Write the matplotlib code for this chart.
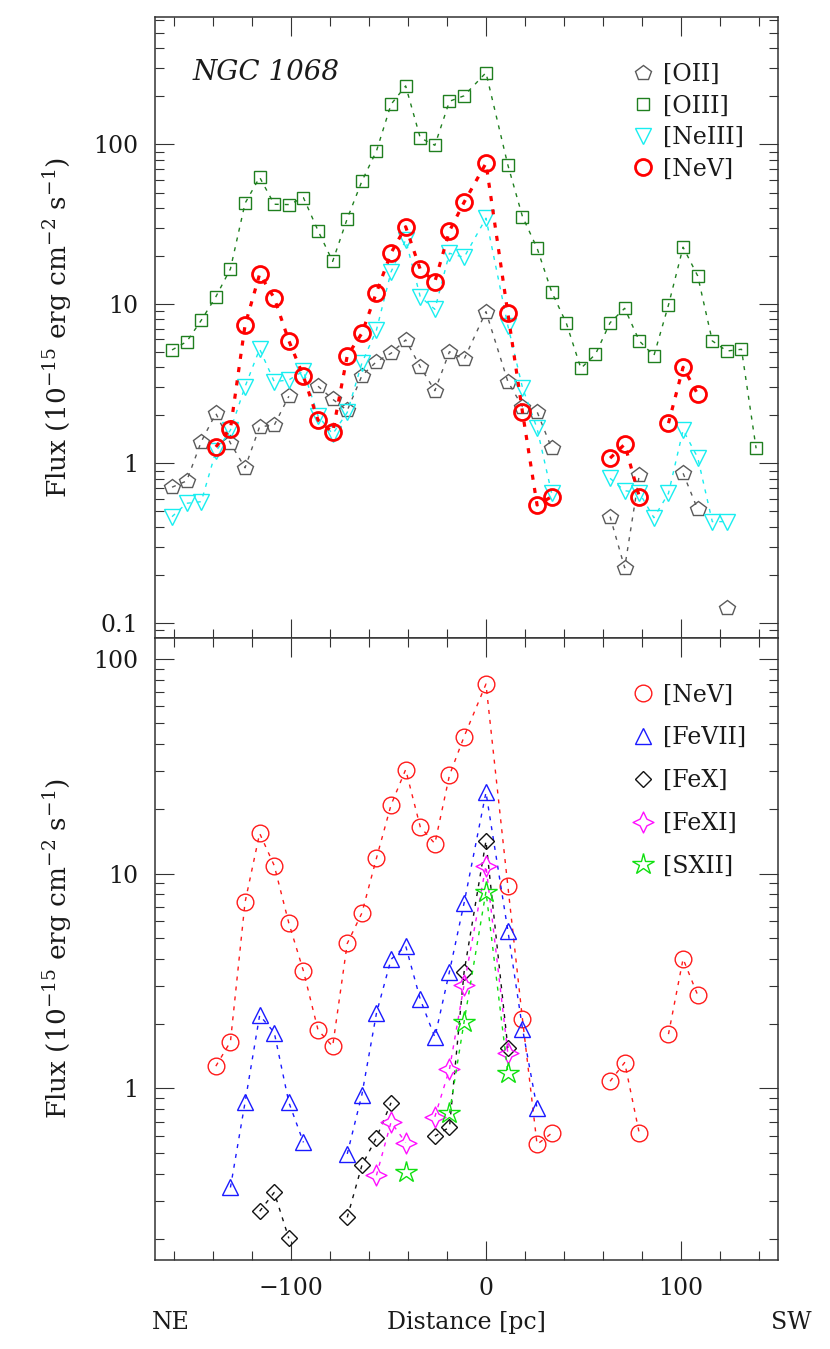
import numpy as np
import matplotlib
matplotlib.use('Agg')
import matplotlib.pyplot as plt
from matplotlib.lines import Line2D
from matplotlib.path import Path
from matplotlib.ticker import LogLocator, FuncFormatter, MultipleLocator, NullFormatter

nan = np.nan

# distance along the slit [pc], NE negative / SW positive
dist = [-161.25, -153.75, -146.25, -138.75, -131.25, -123.75, -116.25, -108.75,
        -101.25, -93.75, -86.25, -78.75, -71.25, -63.75, -56.25, -48.75,
        -41.25, -33.75, -26.25, -18.75, -11.25, 0.0, 11.25, 18.75,
        26.25, 33.75, 41.25, 48.75, 56.25, 63.75, 71.25, 78.75,
        86.25, 93.75, 101.25, 108.75, 116.25, 123.75, 131.25, 138.75]

# fluxes in 1e-15 erg cm-2 s-1 (nan = no measurement)
oii = [0.71, 0.777, 1.37, 2.06, 1.34, 0.94, 1.70, 1.74,
       2.64, nan, 3.05, 2.53, 2.15, 3.55, 4.35, 4.91,
       5.95, 4.04, 2.86, 5.02, 4.5, 8.95, 3.26, 2.27,
       2.11, 1.245, nan, nan, nan, 0.464, 0.222, 0.847,
       nan, nan, 0.868, 0.516, nan, 0.124, nan, nan]

oiii = [5.15, 5.8, 7.9, 11.1, 16.6, 42.8, 62.3, 42.2,
        42.0, 46.4, 28.8, 18.5, 34.3, 58.8, 91.0, 178.6,
        233.0, 110.0, 98.9, 186.6, 202.0, 282.0, 74.3, 35.3,
        22.4, 11.9, 7.6, 3.95, 4.84, 7.63, 9.4, 5.87,
        4.74, 9.86, 22.7, 15.0, 5.87, 5.07, 5.2, 1.245]

neiii = [0.464, 0.563, 0.576, 1.19, 1.62, 3.03, 5.22, 3.26,
         3.34, 3.8, 1.99, 1.53, 2.09, 4.25, 6.87, 15.9,
         25.2, 11.1, 9.26, 20.8, 19.6, 34.5, 7.31, 2.99,
         1.66, 0.65, nan, nan, nan, 0.807, 0.675, 0.656,
         0.457, 0.65, 1.62, 1.09, 0.432, 0.432, nan, nan]

nev = [nan, nan, nan, 1.27, 1.65, 7.36, 15.4, 10.9,
       5.88, 3.52, 1.87, 1.57, 4.73, 6.55, 11.8, 20.9,
       30.5, 16.5, 13.8, 28.7, 43.4, 76.3, 8.74, 2.1,
       0.549, 0.619, nan, nan, nan, 1.08, 1.32, 0.619,
       nan, 1.79, 4.01, 2.72, nan, nan, nan, nan]

fevii = [nan, nan, nan, nan, 0.346, 0.861, 2.19, 1.82,
         0.861, 0.561, nan, nan, 0.496, 0.934, 2.24, 3.99,
         4.61, 2.60, 1.73, 3.50, 7.29, 23.9, 5.43, 1.90,
         0.807, nan, nan, nan, nan, nan, nan, nan,
         nan, nan, nan, nan, nan, nan, nan, nan]

fex = [nan, nan, nan, nan, nan, nan, 0.268, 0.328,
       0.2005, nan, nan, nan, 0.251, 0.438, 0.59, 0.858,
       nan, nan, 0.60, 0.66, 3.48, 14.2, 1.54, nan,
       nan, nan, nan, nan, nan, nan, nan, nan,
       nan, nan, nan, nan, nan, nan, nan, nan]

fexi = [nan, nan, nan, nan, nan, nan, nan, nan,
        nan, nan, nan, nan, nan, nan, 0.394, 0.697,
        0.56, nan, 0.738, 1.23, 3.03, 10.9, 1.455, nan,
        nan, nan, nan, nan, nan, nan, nan, nan,
        nan, nan, nan, nan, nan, nan, nan, nan]

sxii = [nan, nan, nan, nan, nan, nan, nan, nan,
        nan, nan, nan, nan, nan, nan, nan, nan,
        0.408, nan, nan, 0.77, 2.04, 8.25, 1.18, nan,
        nan, nan, nan, nan, nan, nan, nan, nan,
        nan, nan, nan, nan, nan, nan, nan, nan]

plt.rcParams['font.family'] = ['DejaVu Serif']
plt.rcParams['mathtext.fontset'] = 'dejavuserif'
plt.rcParams['text.color'] = '#1a1a1a'
plt.rcParams['axes.labelcolor'] = '#1a1a1a'

FS = 17
star4 = Path.unit_regular_star(4, innerCircle=0.46)

fig = plt.figure(figsize=(8.3, 13.49), dpi=100)
ax1 = fig.add_axes([155/830, 1 - 638/1349, 623/830, 621/1349])
ax2 = fig.add_axes([155/830, 1 - 1260/1349, 623/830, 622/1349], sharex=ax1)


def draw(ax, y, marker, color, ms, lw=1.0, mew=1.0, dash=(2.9, 4.3), label=None):
    ax.plot(dist, y, ls=(0, dash), lw=lw, color=color, marker=marker, ms=ms,
            mfc='none', mec=color, mew=mew)
    return Line2D([], [], ls='none', marker=marker, ms=ms, mfc='none',
                  mec=color, mew=mew, label=label)


# ---- top panel: low / mid ionisation lines
h1 = [
    draw(ax1, oii, 'p', '#5a5a5a', 11.5, label='[OII]'),
    draw(ax1, oiii, 's', '#1f7f1f', 9, label='[OIII]'),
    draw(ax1, neiii, 'v', '#18eef0', 11, label='[NeIII]'),
    draw(ax1, nev, 'o', '#ff0000', 11.5, lw=2.3, mew=2.0, dash=(1.6, 2.6), label='[NeV]'),
]

# ---- bottom panel: coronal lines
h2 = [
    draw(ax2, nev, 'o', '#ff1a1a', 12, label='[NeV]'),
    draw(ax2, fevii, '^', '#1a1aff', 11, label='[FeVII]'),
    draw(ax2, fex, 'D', '#111111', 8.5, label='[FeX]'),
    draw(ax2, fexi, star4, '#ff10ff', 15, label='[FeXI]'),
    draw(ax2, sxii, '*', '#10e010', 16, label='[SXII]'),
]

ax1.set_xlim(-170, 150)
ax1.set_yscale('log')
ax2.set_yscale('log')
ax1.set_ylim(0.0805, 630)
ax2.set_ylim(0.159, 125)

ylab = r'Flux (10$^{-15}$ erg cm$^{-2}$ s$^{-1}$)'
for ax in (ax1, ax2):
    for sp in ax.spines.values():
        sp.set_linewidth(1.1)
        sp.set_color('#333333')
    ax.xaxis.set_major_locator(MultipleLocator(100))
    ax.xaxis.set_minor_locator(MultipleLocator(20))
    ax.yaxis.set_major_locator(LogLocator(base=10, numticks=10))
    ax.yaxis.set_minor_locator(LogLocator(base=10, subs=np.arange(2, 10), numticks=20))
    ax.yaxis.set_major_formatter(FuncFormatter(lambda v, p: f'{v:g}'))
    ax.yaxis.set_minor_formatter(NullFormatter())
    ax.tick_params(which='both', direction='in', top=True, right=True,
                   width=0.8, color='#333333', labelsize=FS, labelcolor='#1a1a1a')
    ax.tick_params(which='major', length=13.5)
    ax.tick_params(which='minor', length=6.5)
    ax.tick_params(axis='y', pad=12)
    ax.tick_params(axis='x', pad=12)
    ax.set_ylabel(ylab, fontsize=19, va='center')
    ax.yaxis.set_label_coords(-0.156, 0.5)

ax1.tick_params(labelbottom=False)

ax1.text(0.061, 0.911, 'NGC 1068', transform=ax1.transAxes, fontsize=20,
         style='italic', va='center', ha='left')

ax2.set_xlabel('Distance [pc]', fontsize=FS, va='center')
ax2.xaxis.set_label_coords(0.5, -0.1)
ax2.text(0.0257, -0.1, 'NE', transform=ax2.transAxes, fontsize=FS,
         ha='center', va='center')
ax2.text(1.021, -0.1, 'SW', transform=ax2.transAxes, fontsize=FS,
         ha='center', va='center')

leg_kw = dict(frameon=False, fontsize=FS, loc='upper left', numpoints=1,
              handlelength=1.0, handletextpad=0.36, borderpad=0, borderaxespad=0)
ax1.legend(handles=h1, bbox_to_anchor=(0.764, 0.926), labelspacing=0.36, **leg_kw)
ax2.legend(handles=h2, bbox_to_anchor=(0.764, 0.927), labelspacing=0.84, **leg_kw)

fig.savefig('out.png', dpi=100)
